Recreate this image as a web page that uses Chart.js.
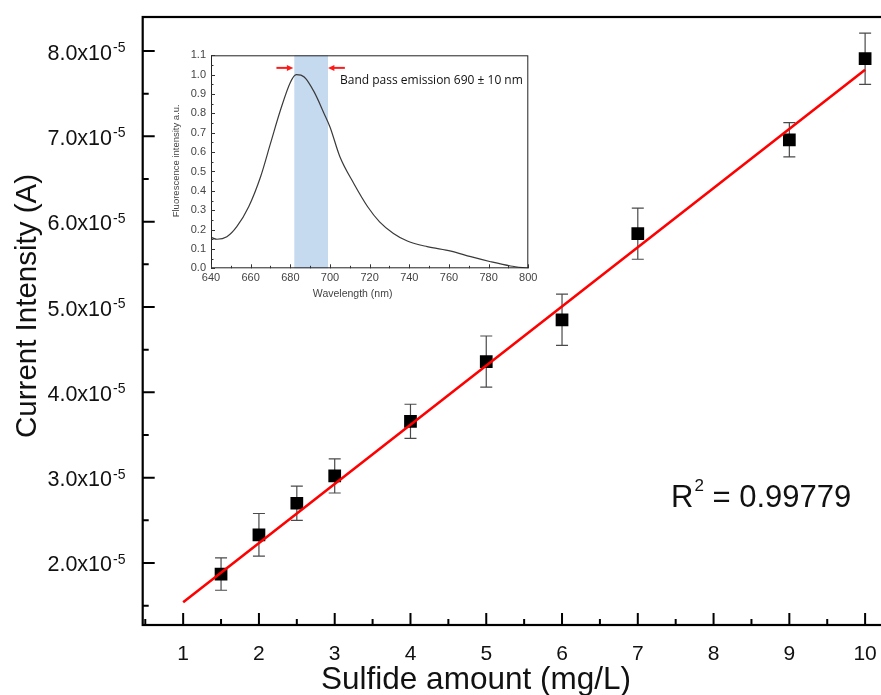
<!DOCTYPE html>
<html>
<head>
<meta charset="utf-8">
<script src="https://cdn.jsdelivr.net/npm/chart.js@4.4.1/dist/chart.umd.min.js"></script>
<style>
  html, body { margin: 0; padding: 0; background: #fff; overflow: hidden; }
  #wrap { position: relative; width: 881px; height: 695px; overflow: hidden; }
  #main { position: absolute; left: 0; top: 0; }
  #inset { position: absolute; left: 160px; top: 40px; }
</style>
</head>
<body>
<div id="wrap">
  <canvas id="main" width="912" height="695"></canvas>
  <canvas id="inset" width="380" height="270"></canvas>
</div>
<script>
// Main calibration data
const sulfide = [1.5, 2, 2.5, 3, 4, 5, 6, 7, 9, 10];
const current = [1.87e-5, 2.33e-5, 2.70e-5, 3.02e-5, 3.66e-5, 4.36e-5, 4.85e-5, 5.86e-5, 6.96e-5, 7.91e-5];
const currentErr = [0.19e-5, 0.25e-5, 0.20e-5, 0.20e-5, 0.20e-5, 0.30e-5, 0.30e-5, 0.30e-5, 0.20e-5, 0.30e-5];
const fitX = [1, 10];
const fitY = [1.54e-5, 7.78e-5];
const xTicks = [1, 2, 3, 4, 5, 6, 7, 8, 9, 10];
const yTicks = [2e-5, 3e-5, 4e-5, 5e-5, 6e-5, 7e-5, 8e-5];
const yTickLabels = ['2.0', '3.0', '4.0', '5.0', '6.0', '7.0', '8.0'];

// Inset emission spectrum
const wavelength = [640, 643, 648, 653, 659, 665, 670, 675, 680, 683, 687, 692, 697, 700, 705, 712, 719, 725, 732, 739, 749, 761, 771, 781, 791, 800];
const fluorescence = [0.16, 0.15, 0.163, 0.215, 0.318, 0.473, 0.645, 0.816, 0.96, 1.0, 0.988, 0.911, 0.80, 0.73, 0.576, 0.438, 0.318, 0.24, 0.18, 0.141, 0.112, 0.089, 0.06, 0.034, 0.012, 0.0];
const insetXTicks = [640, 660, 680, 700, 720, 740, 760, 780, 800];
const insetYTicks = [0, 0.1, 0.2, 0.3, 0.4, 0.5, 0.6, 0.7, 0.8, 0.9, 1.0, 1.1];
const band = [682, 699];
const arrowY = 1.035;
const leftArrow = [673, 681.5];
const rightArrow = [707.5, 699];

const FONT = '"Liberation Sans", Arial, sans-serif';

function arrow(ctx, x1, y1, x2, y2, head) {
  const dir = Math.sign(x2 - x1);
  ctx.beginPath();
  ctx.moveTo(x1, y1);
  ctx.lineTo(x2 - dir * head, y2);
  ctx.stroke();
  ctx.beginPath();
  ctx.moveTo(x2, y2);
  ctx.lineTo(x2 - dir * head * 1.6, y2 - head * 0.75);
  ctx.lineTo(x2 - dir * head * 1.6, y2 + head * 0.75);
  ctx.closePath();
  ctx.fill();
}

const mainDecor = {
  id: 'mainDecor',
  beforeDatasetsDraw(chart) {
    const { ctx, scales: { x, y } } = chart;
    ctx.save();
    ctx.strokeStyle = '#4a4a4a';
    ctx.lineWidth = 1.2;
    sulfide.forEach((s, i) => {
      const px = x.getPixelForValue(s);
      const top = y.getPixelForValue(current[i] + currentErr[i]);
      const bot = y.getPixelForValue(current[i] - currentErr[i]);
      ctx.beginPath();
      ctx.moveTo(px, top); ctx.lineTo(px, bot);
      ctx.moveTo(px - 6, top); ctx.lineTo(px + 6, top);
      ctx.moveTo(px - 6, bot); ctx.lineTo(px + 6, bot);
      ctx.stroke();
    });
    ctx.restore();
  },
  afterDraw(chart) {
    const { ctx, chartArea: a, scales: { x, y } } = chart;
    ctx.save();
    // frame
    ctx.strokeStyle = '#000';
    ctx.lineWidth = 2.2;
    ctx.strokeRect(a.left, a.top, a.right - a.left, a.bottom - a.top);

    // ticks, inward
    ctx.lineWidth = 2;
    ctx.beginPath();
    for (let v = 0.5; v <= x.max; v += 0.5) {
      if (v < x.min) continue;
      const px = x.getPixelForValue(v);
      const len = Number.isInteger(v) ? 12 : 6;
      ctx.moveTo(px, a.bottom); ctx.lineTo(px, a.bottom - len);
    }
    for (let k = 1; k <= 17; k++) {
      const v = k * 0.5e-5;
      if (v < y.min || v > y.max) continue;
      const py = y.getPixelForValue(v);
      const len = k % 2 === 0 ? 12 : 6;
      ctx.moveTo(a.left, py); ctx.lineTo(a.left + len, py);
    }
    ctx.stroke();

    // x tick labels
    ctx.fillStyle = '#111';
    ctx.font = '21px ' + FONT;
    ctx.textAlign = 'center';
    ctx.textBaseline = 'alphabetic';
    xTicks.forEach(v => ctx.fillText(String(v), x.getPixelForValue(v), 660));

    // y tick labels with superscript exponent
    yTicks.forEach((v, i) => {
      const py = y.getPixelForValue(v);
      ctx.font = '14px ' + FONT;
      ctx.textAlign = 'left';
      ctx.fillText('-5', 113, py + 1);
      ctx.font = '21.5px ' + FONT;
      ctx.textAlign = 'right';
      ctx.fillText(yTickLabels[i] + 'x10', 112, py + 8.5);
    });

    // axis titles
    ctx.font = '31.5px ' + FONT;
    ctx.textAlign = 'center';
    ctx.fillText('Sulfide amount (mg/L)', 476, 689);
    ctx.save();
    ctx.font = '29.5px ' + FONT;
    ctx.translate(36, 306);
    ctx.rotate(-Math.PI / 2);
    ctx.fillText('Current Intensity (A)', 0, 0);
    ctx.restore();

    // R^2 annotation
    ctx.textAlign = 'left';
    ctx.font = '31px ' + FONT;
    ctx.fillText('R', 671, 507);
    let rx = 671 + ctx.measureText('R').width + 1;
    ctx.font = '17px ' + FONT;
    ctx.fillText('2', rx, 491);
    rx += ctx.measureText('2').width;
    ctx.font = '31px ' + FONT;
    ctx.fillText(' = 0.99779', rx, 507);
    ctx.restore();
  }
};

new Chart(document.getElementById('main'), {
  type: 'scatter',
  data: {
    datasets: [
      {
        type: 'line',
        data: fitX.map((v, i) => ({ x: v, y: fitY[i] })),
        borderColor: '#ff0000',
        borderWidth: 2.6,
        pointRadius: 0,
        fill: false
      },
      {
        data: sulfide.map((v, i) => ({ x: v, y: current[i] })),
        pointStyle: 'rect',
        pointRadius: 9,
        backgroundColor: '#000',
        borderColor: '#000',
        borderWidth: 0
      }
    ]
  },
  plugins: [mainDecor],
  options: {
    responsive: false,
    animation: false,
    events: [],
    layout: { padding: { left: 0, top: 17, right: 2, bottom: 0 } },
    plugins: { legend: { display: false }, tooltip: { enabled: false } },
    scales: {
      x: {
        type: 'linear', min: 0.466, max: 10.5,
        grid: { display: false }, border: { display: false },
        ticks: { display: false },
        afterFit(s) { s.height = 70; }
      },
      y: {
        type: 'linear', min: 1.273e-5, max: 8.399e-5,
        grid: { display: false }, border: { display: false },
        ticks: { display: false },
        afterFit(s) { s.width = 142.7; }
      }
    }
  }
});

const insetDecor = {
  id: 'insetDecor',
  beforeDatasetsDraw(chart) {
    const { ctx, chartArea: a, scales: { x } } = chart;
    ctx.save();
    ctx.fillStyle = '#c5daef';
    const l = x.getPixelForValue(band[0]);
    const r = x.getPixelForValue(band[1]);
    ctx.fillRect(l, a.top, r - l, a.bottom - a.top);
    ctx.restore();
  },
  afterDraw(chart) {
    const { ctx, chartArea: a, scales: { x, y } } = chart;
    ctx.save();
    ctx.strokeStyle = '#222';
    ctx.lineWidth = 1;
    ctx.strokeRect(a.left + 0.5, a.top + 0.5, a.right - a.left - 1, a.bottom - a.top - 1);

    ctx.strokeStyle = '#333';
    ctx.beginPath();
    for (let v = 640; v <= 800; v += 10) {
      const px = Math.round(x.getPixelForValue(v)) + 0.5;
      const len = v % 20 === 0 ? 4 : 2.5;
      ctx.moveTo(px, a.bottom); ctx.lineTo(px, a.bottom - len);
    }
    for (let k = 0; k <= 22; k++) {
      const py = Math.round(y.getPixelForValue(k * 0.05)) + 0.5;
      const len = k % 2 === 0 ? 4 : 2.5;
      ctx.moveTo(a.left, py); ctx.lineTo(a.left + len, py);
    }
    ctx.stroke();

    ctx.fillStyle = '#444';
    ctx.font = '11px ' + FONT;
    ctx.textAlign = 'center';
    ctx.textBaseline = 'middle';
    insetXTicks.forEach(v => ctx.fillText(String(v), x.getPixelForValue(v), a.bottom + 10));
    ctx.textAlign = 'right';
    insetYTicks.forEach(v => ctx.fillText(v.toFixed(1), a.left - 5, y.getPixelForValue(v)));

    ctx.font = '10.5px ' + FONT;
    ctx.textAlign = 'center';
    ctx.fillText('Wavelength (nm)', (a.left + a.right) / 2 - 17, a.bottom + 26);
    ctx.save();
    ctx.font = '9.5px ' + FONT;
    ctx.translate(16, (a.top + a.bottom) / 2 - 1);
    ctx.rotate(-Math.PI / 2);
    ctx.fillText('Fluorescence intensity a.u.', 0, 0);
    ctx.restore();

    ctx.strokeStyle = '#ff1a1a';
    ctx.fillStyle = '#ff1a1a';
    ctx.lineWidth = 2;
    const ay = y.getPixelForValue(arrowY);
    arrow(ctx, x.getPixelForValue(leftArrow[0]), ay, x.getPixelForValue(leftArrow[1]), ay, 4);
    arrow(ctx, x.getPixelForValue(rightArrow[0]), ay, x.getPixelForValue(rightArrow[1]), ay, 4);

    ctx.fillStyle = '#111';
    ctx.font = '12px "Open Sans", sans-serif';
    ctx.textAlign = 'left';
    ctx.textBaseline = 'alphabetic';
    ctx.fillText('Band pass emission 690 \u00b1 10 nm', 180, 44);
    ctx.restore();
  }
};

new Chart(document.getElementById('inset'), {
  type: 'line',
  data: {
    datasets: [{
      data: wavelength.map((v, i) => ({ x: v, y: fluorescence[i] })),
      borderColor: '#3a3a3a',
      borderWidth: 1.2,
      pointRadius: 0,
      cubicInterpolationMode: 'monotone',
      fill: false
    }]
  },
  plugins: [insetDecor],
  options: {
    responsive: false,
    animation: false,
    events: [],
    layout: { padding: { left: 0, top: 15.3, right: 11.7, bottom: 0 } },
    plugins: { legend: { display: false }, tooltip: { enabled: false } },
    scales: {
      x: {
        type: 'linear', min: 640, max: 800,
        grid: { display: false }, border: { display: false },
        ticks: { display: false },
        afterFit(s) { s.height = 41.7; }
      },
      y: {
        type: 'linear', min: 0, max: 1.1,
        grid: { display: false }, border: { display: false },
        ticks: { display: false },
        afterFit(s) { s.width = 51; }
      }
    }
  }
});
</script>
</body>
</html>
